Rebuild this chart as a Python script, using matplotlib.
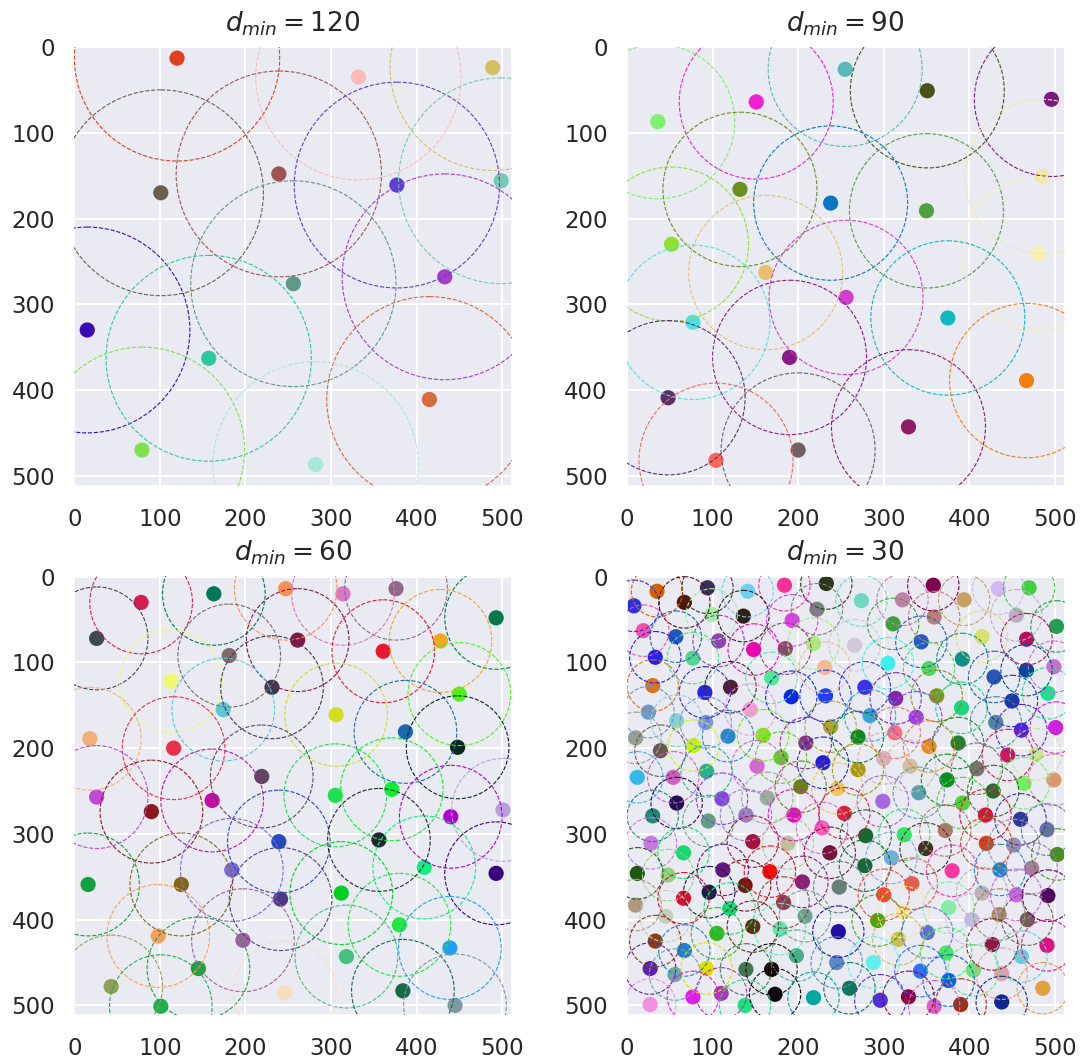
import matplotlib
matplotlib.use("Agg")
import matplotlib.pyplot as plt
from matplotlib.patches import Circle
import seaborn as sns

sns.set_theme(style="darkgrid")
plt.rcParams["font.family"] = ["DejaVu Sans"]
plt.rcParams["grid.linewidth"] = 1.5

# Poisson-disk samples for four minimum distances
d_values = [120, 90, 60, 30]

x_120 = [120, 332, 489, 239, 101, 377, 499, 433, 256, 15, 157, 415, 79, 282]
y_120 = [13, 35, 24, 148, 170, 161, 156, 268, 276, 330, 363, 411, 470, 487]
c_120 = ['#e0401c', '#fbbcb8', '#d4c060', '#9e5450', '#6b5f50', '#5a3fd0', '#78c8b8',
         '#a83cc8', '#5f9a88', '#3a0ab8', '#2ec8a0', '#d86a40', '#80e050', '#a8e8d8']

x_90 = [255, 351, 496, 151, 36, 485, 132, 238, 350, 52, 481, 162, 256, 375, 77, 190,
        467, 48, 329, 200, 104]
y_90 = [26, 51, 61, 64, 87, 151, 166, 182, 191, 230, 241, 263, 292, 316, 321, 362,
        389, 409, 443, 470, 482]
c_90 = ['#5ab8b8', '#4a5218', '#7a1a80', '#f020d0', '#80f070', '#f0e8a8', '#6a9020',
        '#0a78c0', '#50a040', '#90e030', '#f8f0b0', '#e8c070', '#d040d0', '#10b8c0',
        '#50e0e0', '#8a1a88', '#f08010', '#5a3068', '#901a68', '#706060', '#f86858']

x_60 = [247, 376, 163, 314, 78, 493, 26, 261, 428, 361, 181, 113, 231, 450, 174, 306,
        387, 18, 116, 448, 219, 305, 371, 26, 161, 90, 501, 440, 239, 356, 409, 184,
        493, 16, 125, 312, 241, 380, 98, 197, 439, 318, 145, 43, 246, 384, 101, 445]
y_60 = [14, 14, 20, 20, 30, 48, 72, 74, 75, 87, 92, 122, 129, 137, 155, 161,
        181, 189, 200, 199, 233, 255, 248, 257, 261, 274, 272, 280, 309, 307, 339, 342,
        346, 359, 359, 369, 376, 406, 419, 424, 433, 443, 457, 478, 485, 483, 501, 500]
c_60 = ['#f89050', '#906888', '#007858', '#d878c8', '#d42050', '#00784a', '#404850',
        '#801848', '#f0a820', '#e81830', '#806868', '#f0f870', '#403850', '#50f020',
        '#58c8d8', '#d0e020', '#1a68b0', '#f0b078', '#e83048', '#082818', '#604860',
        '#20e050', '#10f030', '#c048d8', '#c010a8', '#8a1a1a', '#b8a0e0', '#b000d0',
        '#2848c0', '#202830', '#10f080', '#7868d8', '#380080', '#10a040', '#806818',
        '#00d020', '#503888', '#20e840', '#f8a060', '#a060a0', '#20a0f0', '#48c080',
        '#20a040', '#90a058', '#f8dcc0', '#186848', '#20b050', '#8098a0']

x_30 = [8, 35, 67, 94, 141, 184, 233, 274, 322, 358, 394, 434, 470, 99, 136, 193,
        222, 311, 359, 455, 502, 19, 57, 107, 148, 185, 218, 266, 344, 415, 467, 33,
        77, 305, 353, 392, 231, 467, 499, 429, 169, 30, 121, 91, 192, 232, 278, 314,
        362, 450, 492, 391, 25, 144, 284, 338, 58, 92, 238, 431, 461, 501, 10, 118,
        159, 270, 313, 209, 353, 387, 78, 39, 445, 478, 180, 229, 300, 152, 331, 409,
        270, 12, 54, 93, 374, 499, 464, 203, 246, 428, 341, 111, 164, 58, 299, 392,
        254, 30, 195, 139, 419, 460, 95, 228, 491, 372, 324, 279, 28, 147, 188, 420,
        452, 349, 66, 237, 503, 309, 12, 48, 112, 167, 278, 380, 436, 473, 205, 138,
        248, 333, 300, 415, 455, 492, 96, 66, 183, 376, 10, 120, 323, 45, 208, 435,
        293, 403, 468, 147, 179, 105, 247, 351, 33, 317, 427, 491, 67, 198, 373, 461,
        245, 288, 27, 93, 139, 169, 343, 405, 438, 56, 376, 260, 486, 110, 77, 173,
        218, 329, 296, 438, 27, 138, 359, 390]
y_30 = [34, 17, 30, 13, 17, 10, 8, 28, 27, 10, 27, 14, 13, 44, 46, 51,
        38, 55, 47, 45, 58, 63, 70, 75, 85, 84, 78, 80, 76, 70, 73, 94,
        95, 101, 107, 96, 106, 109, 105, 117, 118, 127, 129, 135, 140, 139, 129, 142,
        139, 145, 136, 153, 158, 155, 162, 164, 168, 170, 175, 170, 179, 176, 188, 186,
        185, 187, 182, 194, 198, 194, 197, 203, 208, 207, 211, 217, 212, 221, 221, 224,
        225, 234, 234, 227, 237, 237, 241, 245, 247, 250, 252, 259, 258, 264, 262, 264,
        276, 279, 278, 278, 278, 283, 285, 293, 295, 296, 301, 302, 311, 309, 311, 311,
        313, 317, 322, 322, 324, 328, 346, 348, 342, 344, 337, 343, 342, 340, 356, 360,
        362, 358, 371, 369, 371, 372, 368, 375, 380, 386, 383, 387, 391, 396, 396, 394,
        401, 400, 400, 408, 411, 416, 414, 415, 425, 423, 429, 430, 436, 442, 439, 443,
        450, 450, 457, 457, 458, 458, 460, 459, 463, 464, 471, 480, 480, 486, 490, 487,
        491, 490, 494, 496, 499, 500, 501, 499]
c_30 = ['#2a30e8', '#d86000', '#501808', '#383058', '#70d0f0', '#f8309a', '#283818',
        '#70d8c0', '#c080a8', '#800050', '#c8a060', '#d0b8f0', '#40d040', '#a0f0a0',
        '#302018', '#e040e8', '#788080', '#40a040', '#b88078', '#b8b0c0', '#20a050',
        '#f850a8', '#2058c0', '#9040b0', '#e808b0', '#884868', '#a0f078', '#d0c8d8',
        '#2858c8', '#d8e070', '#b81060', '#2020f0', '#50d890', '#40f0f0', '#50d860',
        '#109088', '#f8b898', '#004898', '#c870d0', '#2858b0', '#50e890', '#e07018',
        '#502030', '#2828d8', '#0828e0', '#2040f8', '#4030e8', '#8028a8', '#889020',
        '#1838a8', '#20e090', '#18d880', '#6898d0', '#f898e0', '#30a8d8', '#a040f0',
        '#88d0d8', '#8090e0', '#a8a830', '#508898', '#5020e8', '#d020e0', '#98a090',
        '#2888c8', '#80e818', '#108820', '#f87078', '#883090', '#f08820', '#208030',
        '#c8f010', '#685850', '#d01860', '#c8e890', '#60c828', '#2020d8', '#d8b0c0',
        '#e060e0', '#d0c0a0', '#807070', '#a89810', '#38b8e8', '#d060c0', '#28b090',
        '#089020', '#d89870', '#70f060', '#708018', '#f0c860', '#306830', '#58a0b0',
        '#8840e8', '#98b098', '#280850', '#a868e0', '#58d038', '#d82040', '#208878',
        '#e010c0', '#9880c0', '#e01040', '#303898', '#60a080', '#f860c0', '#6870a8',
        '#b07868', '#30e860', '#186830', '#c878e0', '#a81040', '#c0c098', '#c84818',
        '#9890b0', '#483028', '#18d870', '#701838', '#489020', '#78a8e8', '#205810',
        '#98d080', '#601880', '#f01010', '#186838', '#f838a0', '#1888c8', '#a87898',
        '#882078', '#701808', '#688078', '#e06050', '#f84830', '#c0b0b0', '#d060f0',
        '#500060', '#182040', '#d81030', '#904050', '#80f0a0', '#b09880', '#10e080',
        '#f8e898', '#c0d0b8', '#70a090', '#a09060', '#48a808', '#c8b8e8', '#706058',
        '#603010', '#60e8b0', '#30b820', '#2010a0', '#6070d8', '#884010', '#c8c050',
        '#901848', '#e01088', '#2080d0', '#48b088', '#48e860', '#60d0e0', '#6088c8',
        '#60f0f0', '#6020b0', '#e0e000', '#407850', '#180808', '#3070f8', '#70e070',
        '#e0a0a8', '#70a8a0', '#0860f0', '#107858', '#e0a040', '#a040b0', '#e818f0',
        '#100810', '#00a8a0', '#900040', '#5030d8', '#102890', '#f090e0', '#20e080',
        '#e060c8', '#a03010']

samples = [(x_120, y_120, c_120), (x_90, y_90, c_90), (x_60, y_60, c_60), (x_30, y_30, c_30)]
ticks = [0, 100, 200, 300, 400, 500]

fig = plt.figure(figsize=(10.83, 10.61), dpi=100)
lefts = [0.0683, 0.5786]
bottoms = [0.5423, 0.0431]
w, h = 0.4044, 0.4138

for i, (d, (xs, ys, cs)) in enumerate(zip(d_values, samples)):
    ax = fig.add_axes([lefts[i % 2], bottoms[i // 2], w, h])
    ax.scatter(xs, ys, c=cs, s=120, linewidths=0, zorder=2)
    for x, y, c in zip(xs, ys, cs):
        ax.add_patch(Circle((x, y), d, fill=False, ec=c, ls="--", lw=0.8, zorder=3))
    ax.set_xlim(-0.5, 511.5)
    ax.set_ylim(511.5, -0.5)
    ax.set_xticks(ticks)
    ax.set_yticks(ticks)
    ax.tick_params(labelsize=16.5, length=0, pad=13.5, labelcolor=".15")
    ax.tick_params(axis="x", pad=16)
    ax.set_title(f"$d_{{min}} = {d}$", fontsize=19, color=".15", pad=11)

fig.savefig("out.png", dpi=100)
